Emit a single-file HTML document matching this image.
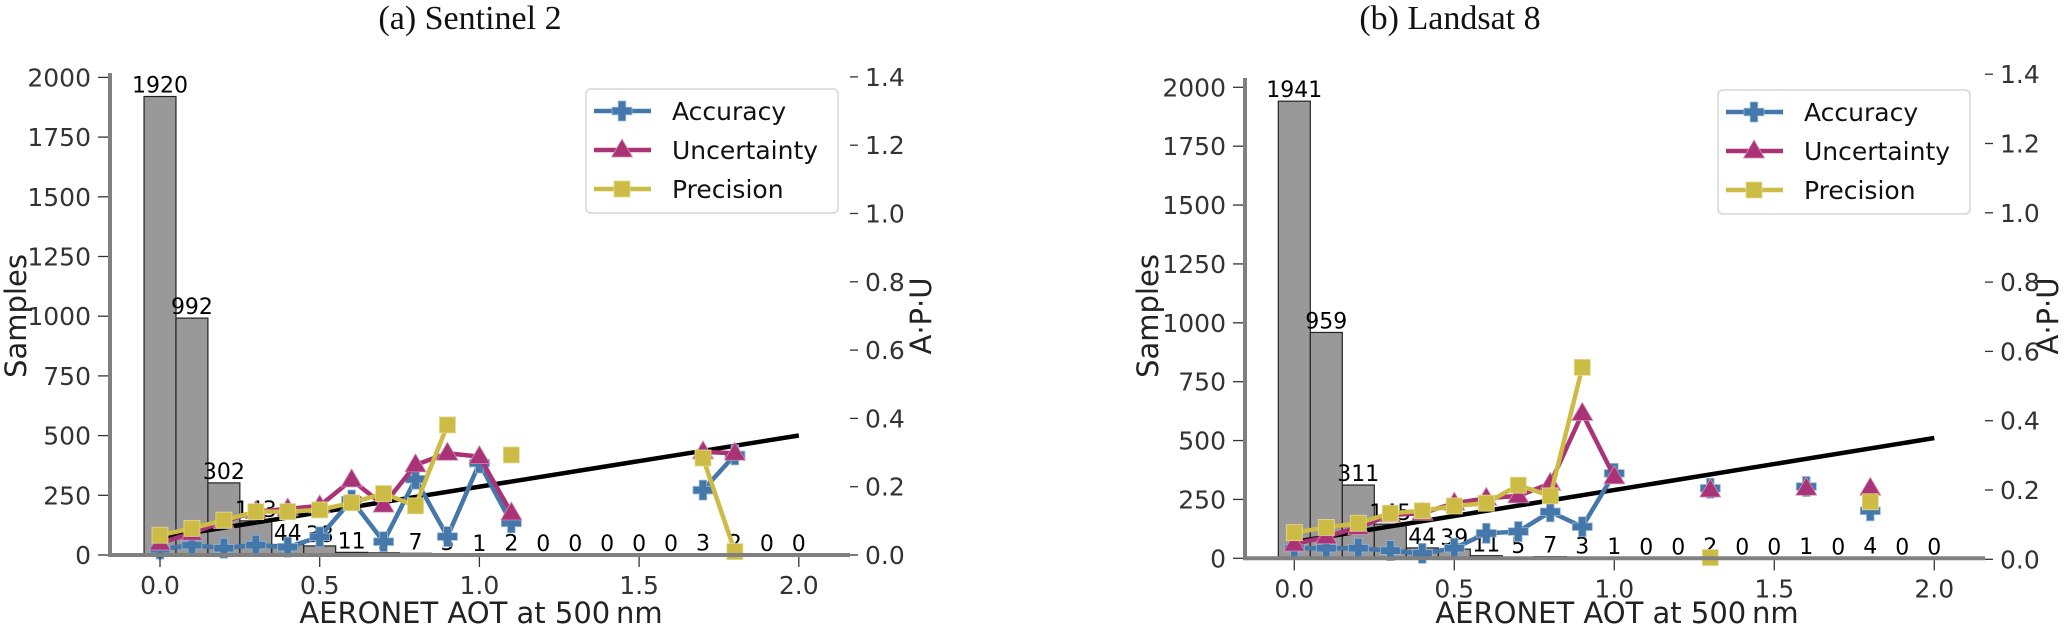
<!DOCTYPE html>
<html><head><meta charset="utf-8"><style>
html,body{margin:0;padding:0;background:#fff;}
svg{display:block;font-family:"DejaVu Sans","Liberation Sans",sans-serif;}
</style></head><body>
<svg id="fig" width="2067" height="628" viewBox="0 0 2067 628" xmlns="http://www.w3.org/2000/svg"></svg>
<script>
const bins = [0.0,0.1,0.2,0.3,0.4,0.5,0.6,0.7,0.8,0.9,1.0,1.1,1.2,1.3,1.4,1.5,1.6,1.7,1.8,1.9,2.0];
const xTicks = [0.0,0.5,1.0,1.5,2.0];
const xTickLabels = ["0.0","0.5","1.0","1.5","2.0"];
const sTicks = [0,250,500,750,1000,1250,1500,1750,2000];
const aTicks = [0.0,0.2,0.4,0.6,0.8,1.0,1.2,1.4];
const aTickLabels = ["0.0","0.2","0.4","0.6","0.8","1.0","1.2","1.4"];
const N = null;
const countsS2 = [1920,992,302,143,44,38,11,9,7,5,1,2,0,0,0,0,0,3,2,0,0];
const accS2 = [0.017,0.029,0.02,0.029,0.023,0.053,0.161,0.039,0.222,0.054,0.269,0.094,N,N,N,N,N,0.19,0.293,N,N];
const uncS2 = [0.035,0.064,0.098,0.127,0.135,0.144,0.22,0.146,0.264,0.298,0.288,0.123,N,N,N,N,N,0.302,0.298,N,N];
const preS2 = [0.058,0.078,0.102,0.127,0.127,0.132,0.153,0.18,0.144,0.381,N,0.293,N,N,N,N,N,0.284,0.01,N,N];
const countsL8 = [1941,959,311,145,44,39,11,5,7,3,1,0,0,2,0,0,1,0,4,0,0];
const accL8 = [0.032,0.032,0.032,0.025,0.017,0.032,0.075,0.08,0.137,0.094,0.248,N,N,0.205,N,N,0.21,N,0.14,N,N];
const uncL8 = [0.044,0.065,0.092,0.128,0.133,0.162,0.176,0.183,0.219,0.421,0.238,N,N,0.2,N,N,0.205,N,0.205,N,N];
const preL8 = [0.077,0.092,0.104,0.133,0.14,0.154,0.162,0.214,0.183,0.554,N,N,N,0.005,N,N,N,N,0.166,N,N];
const refX = [0.0,2.0];
const refY = [0.05,0.35];

const NS="http://www.w3.org/2000/svg";
const svg=document.getElementById('fig');
function mk(tag,attrs,parent){const e=document.createElementNS(NS,tag);for(const k in attrs)e.setAttribute(k,attrs[k]);(parent||svg).appendChild(e);return e;}
const C={acc:"#4477AA",unc:"#AA3377",pre:"#CCBB44"};

function marker(g,kind,cx,cy){
  let m;
  if(kind==='acc'){
    const a=10,t=3.8;
    m=mk('path',{d:`M${cx-t},${cy-a}H${cx+t}V${cy-t}H${cx+a}V${cy+t}H${cx+t}V${cy+a}H${cx-t}V${cy+t}H${cx-a}V${cy-t}H${cx-t}Z`,fill:C.acc,stroke:"#9bb8d6","stroke-width":0.8},g);
  }else if(kind==='unc'){
    m=mk('path',{d:`M${cx},${cy-11}L${cx+10.5},${cy+7}L${cx-10.5},${cy+7}Z`,fill:C.unc,stroke:"#d08fb0","stroke-width":0.8},g);
  }else{
    m=mk('rect',{x:cx-8,y:cy-8,width:16,height:16,fill:C.pre,stroke:"#e3d98f","stroke-width":0.8},g);
  }
  return m;
}

function drawChart(o){
  const X=v=>o.x0+v*o.xu;
  const YS=v=>o.s0-v*o.su;
  const YA=v=>o.a0-v*o.au;
  const g=mk('g',{});
  
  
  const t=mk('text',{x:o.titleX,y:29,'text-anchor':'middle','font-family':'"Liberation Serif","DejaVu Serif",serif','font-size':34,fill:'#111'},g);
  t.textContent=o.title;
  
  
  const bg=mk('g',{},g);
  
  
  const bw=0.1*o.xu;
  bins.forEach((b,i)=>{
    const c=o.counts[i];
    const y=YS(c);
    const r=mk('rect',{x:X(b)-bw/2,y:y,width:bw,height:o.s0-y,fill:'#999999',stroke:'#222','stroke-width':1.2},bg);
    
    
  });
  bins.forEach((b,i)=>{
    const c=o.counts[i];
    const tx=mk('text',{x:X(b),y:YS(c)-4,'text-anchor':'middle','font-size':22,fill:'#000'},bg);
    tx.textContent=String(c);
    
    
  });
  const rl=mk('line',{x1:X(refX[0]),y1:YA(refY[0]),x2:X(refX[1]),y2:YA(refY[1]),stroke:'#000','stroke-width':4.5},g);
  
  
  [['acc',o.acc],['unc',o.unc],['pre',o.pre]].forEach(([k,vals])=>{
    const sg=mk('g',{},g);
    
    
    let seg=[];
    const flush=()=>{if(seg.length>1){const p=mk('polyline',{points:seg.map(q=>q.join(',')).join(' '),fill:'none',stroke:C[k],'stroke-width':4.5,'stroke-linejoin':'round'},sg);}seg=[];};
    vals.forEach((v,i)=>{if(v===null){flush();}else seg.push([X(bins[i]),YA(v)]);});
    flush();
    vals.forEach((v,i)=>{if(v!==null){const m=marker(sg,k,X(bins[i]),YA(v));}});
  });
  const ax=mk('g',{},g);
  
  
  mk('line',{x1:o.spineL,y1:o.spineTop,x2:o.spineL,y2:o.s0+2,stroke:'#808080','stroke-width':4},ax);
  mk('line',{x1:o.spineL,y1:o.s0,x2:o.spineR,y2:o.s0,stroke:'#808080','stroke-width':4},ax);
  sTicks.forEach(v=>{
    mk('line',{x1:o.spineL-12,y1:YS(v),x2:o.spineL-2,y2:YS(v),stroke:'#333','stroke-width':1.3},ax);
    const tl=mk('text',{x:o.spineL-19,y:YS(v)+9,'text-anchor':'end','font-size':25,fill:'#333'},ax);
    tl.textContent=String(v);
    
    
  });
  aTicks.forEach((v,i)=>{
    mk('line',{x1:o.spineR,y1:YA(v),x2:o.spineR+8,y2:YA(v),stroke:'#333','stroke-width':1.3},ax);
    const tl=mk('text',{x:o.spineR+15,y:YA(v)+9,'font-size':25,fill:'#333'},ax);
    tl.textContent=aTickLabels[i];
    
    
  });
  xTicks.forEach((v,i)=>{
    mk('line',{x1:X(v),y1:o.s0+2,x2:X(v),y2:o.s0+12,stroke:'#333','stroke-width':1.3},ax);
    const tl=mk('text',{x:X(v),y:o.s0+39,'text-anchor':'middle','font-size':25,fill:'#333'},ax);
    tl.textContent=xTickLabels[i];
    
    
  });
  const xl=mk('text',{x:o.xlabX,y:623,'text-anchor':'middle','font-size':29,fill:'#222'},ax);
  xl.textContent='AERONET AOT at 500\u2009nm';
  
  
  const yl=mk('text',{x:0,y:0,'text-anchor':'middle','font-size':29,fill:'#222',transform:`translate(${o.ylabX},${o.ylabY}) rotate(-90)`},ax);
  yl.textContent='Samples';
  
  
  const y2=mk('text',{x:0,y:0,'text-anchor':'middle','font-size':29,fill:'#222',transform:`translate(${o.y2labX},${o.ylabY}) rotate(-90)`},ax);
  y2.textContent='A\u00b7P\u00b7U';
  
  
  const lg=mk('g',{},g);
  
  
  mk('rect',{x:o.legX,y:o.legY,width:252,height:124,rx:5,fill:'#fff','fill-opacity':0.85,stroke:'#d6d6d6','stroke-width':1.5},lg);
  [['acc','Accuracy'],['unc','Uncertainty'],['pre','Precision']].forEach(([k,lab],i)=>{
    const cy=o.legY+22+i*39;
    const e=mk('g',{},lg);
    
    
    mk('line',{x1:o.legX+8,y1:cy,x2:o.legX+65,y2:cy,stroke:C[k],'stroke-width':4.5},e);
    marker(e,k,o.legX+36,cy);
    const tx=mk('text',{x:o.legX+86,y:cy+9,'font-size':25,fill:'#111'},e);
    tx.textContent=lab;
  });
}

drawChart({id:'sentinel2',title:'(a) Sentinel 2',titleX:470,x0:160,xu:319.4,s0:555,su:0.2388,a0:555,au:341.5,
  spineL:110,spineR:850,spineTop:73,counts:countsS2,acc:accS2,unc:uncS2,pre:preS2,
  xlabX:481,ylabX:26,ylabY:316,y2labX:931,legX:586,legY:89});
drawChart({id:'landsat8',title:'(b) Landsat 8',titleX:1450,x0:1294.3,xu:320,s0:558.3,su:0.2355,a0:559.3,au:346.5,
  spineL:1245,spineR:1985,spineTop:78,counts:countsL8,acc:accL8,unc:uncL8,pre:preL8,
  xlabX:1617,ylabX:1158,ylabY:316,y2labX:2058,legX:1718,legY:90});
</script>
</body></html>
